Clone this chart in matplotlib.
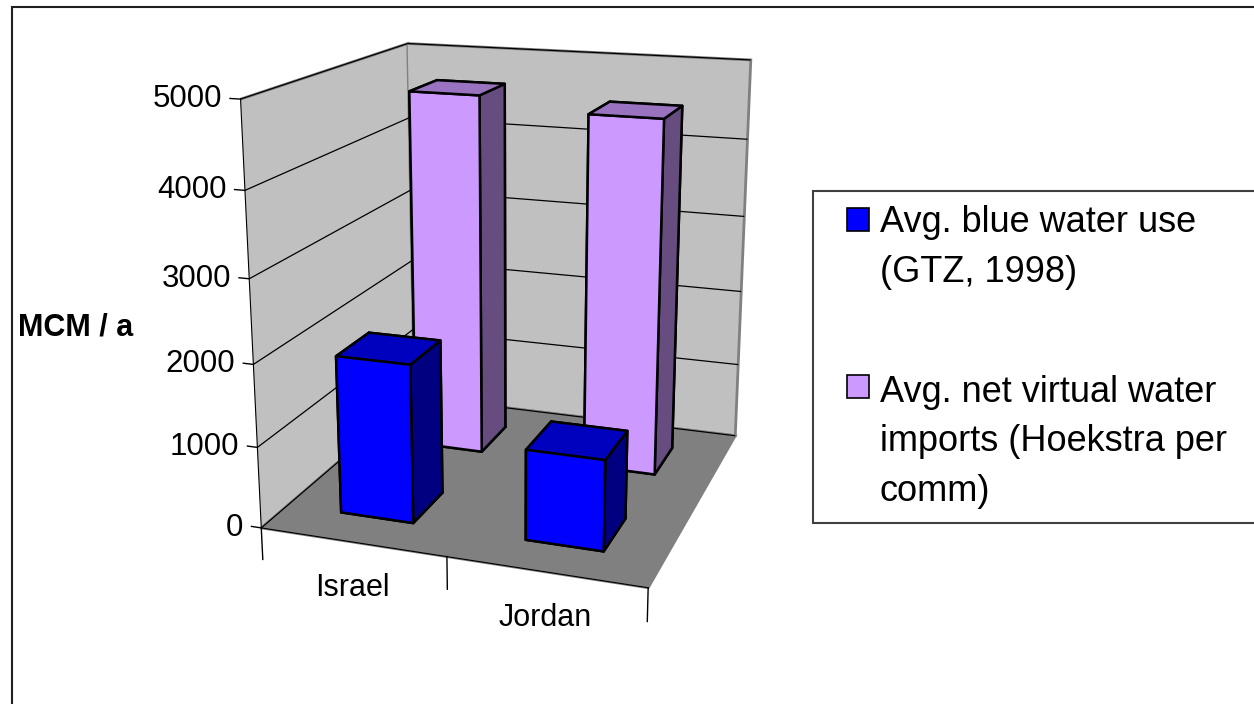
import matplotlib.pyplot as plt
from matplotlib.patches import Patch, Rectangle
from matplotlib.legend_handler import HandlerPatch
from matplotlib.transforms import ScaledTranslation
from mpl_toolkits.mplot3d import proj3d

plt.rcParams["font.family"] = ["Liberation Sans", "DejaVu Sans"]

# data (MCM / a)
countries = ["Israel", "Jordan"]
series = ["Avg. blue water use\n(GTZ, 1998)",
          "Avg. net virtual water\nimports (Hoekstra per\ncomm)"]
blue_use = [1950, 1100]
virtual_imports = [4650, 4500]
zticks = [0, 1000, 2000, 3000, 4000, 5000]

front_colors = ["#0000ff", "#cc99ff"]
top_colors = ["#0000bf", "#9973bf"]
side_colors = ["#000080", "#664c7f"]


class TopPatch(HandlerPatch):
    # legend square aligned with the first text line
    def __init__(self, lift, **kw):
        super().__init__(**kw)
        self.lift = lift

    def create_artists(self, legend, orig_handle, xdescent, ydescent,
                       width, height, fontsize, trans):
        w = 0.6 * fontsize
        p = Rectangle((-xdescent + width - w, -ydescent + self.lift * fontsize),
                      w, height)
        self.update_prop(p, orig_handle, legend)
        p.set_transform(trans)
        return [p]


def main():
    fig = plt.figure(figsize=(12.54, 7.04), dpi=100)
    ax = fig.add_axes([0.113, 0.091, 0.58, 0.98], projection="3d")
    ax.set_proj_type("persp", focal_length=0.43)
    ax.view_init(elev=16.3, azim=-71)
    ax.set_box_aspect((1.0, 1.005, 1.085), zoom=0.965)

    # bars: one row per series, one column per category
    values = [blue_use, virtual_imports]
    xs, ys, dzs, cols = [], [], [], []
    for s, vals in enumerate(values):
        for c, v in enumerate(vals):
            xs.append(c + 0.3)
            ys.append(s + 0.3)
            dzs.append(v)
            # faces: -z, +z, -y, +y, -x, +x
            cols += [front_colors[s], top_colors[s], front_colors[s],
                     front_colors[s], side_colors[s], side_colors[s]]
    ax.bar3d(xs, ys, [0] * len(xs), 0.4, 0.4, dzs, color=cols,
             shade=False, edgecolor="black", linewidth=1.8)

    ax.set_xlim(0, len(countries))
    ax.set_ylim(0, len(values))
    ax.set_zlim(zticks[0], zticks[-1])

    ax.set_xticks([])
    ax.set_yticks([])
    ax.set_zticks(zticks)
    ax.zaxis.set_major_formatter(plt.NullFormatter())
    ax.zaxis.set_tick_params(label1On=False, label2On=False)
    ax.zaxis.set_ticks_position("lower")

    # walls and floor
    for axis, col in [(ax.xaxis, "#c0c0c0"), (ax.yaxis, "#c0c0c0"),
                      (ax.zaxis, "#808080")]:
        axis.set_pane_color(col)
        axis.pane.set_edgecolor("#808080")
        axis.pane.set_linewidth(2)
        axis.label.set_visible(False)
        axis.offsetText.set_visible(False)
    ax.zaxis._axinfo["grid"].update(color="black", linewidth=0.9)
    ax.zaxis._axinfo["tick"].update(inward_factor=0, outward_factor=0)
    ax.yaxis.line.set_color((0, 0, 0, 0))
    ax.xaxis.line.set_color("black")
    ax.zaxis.line.set_color("black")

    M = ax.get_proj()

    # value ticks and labels on the front-left edge
    left = ScaledTranslation(-18 / 100, 0, fig.dpi_scale_trans)
    for z in zticks:
        ax.plot([0, -0.055], [0, 0], [z, z], color="black", linewidth=1)
        px, py, _ = proj3d.proj_transform(0, 0, z, M)
        ax.text2D(px, py, str(z), fontsize=22.5, ha="right", va="center",
                  transform=ax.transData + left)

    # category tick marks at the boundaries, names below the front edge
    down = ScaledTranslation(0, -31 / 100, fig.dpi_scale_trans)
    for b in range(len(countries) + 1):
        ax.plot([b, b], [0, 0], [0, -400], color="black", linewidth=1)
    for c, name in enumerate(countries):
        px, py, _ = proj3d.proj_transform(c + 0.5, 0, 0, M)
        ax.text2D(px, py, name, fontsize=22, ha="center", va="top",
                  transform=ax.transData + down)

    fig.text(18 / 1254, 1 - 327 / 704, "MCM / a", fontsize=22,
             fontweight="bold", ha="left", va="center")

    # legend box runs past the right edge of the picture
    fig.add_artist(Rectangle((813 / 1254, 1 - 523 / 704), 0.5, 332 / 704,
                             transform=fig.transFigure, facecolor="white",
                             edgecolor="#404040", linewidth=1.5))
    handles = [Patch(facecolor=c, edgecolor="black", linewidth=1.2)
               for c in front_colors]
    leg = fig.legend(handles, series, loc="upper left",
                     bbox_to_anchor=(813 / 1254, 1 - 191 / 704),
                     fontsize=26, frameon=False,
                     borderpad=0.4, borderaxespad=0, handlelength=1.15,
                     handleheight=0.6, handletextpad=0.3, labelspacing=2.35,
                     handler_map={handles[0]: TopPatch(0.8),
                                  handles[1]: TopPatch(1.55)})
    for t in leg.get_texts():
        t.set_linespacing(1.54)

    fig.add_artist(Rectangle((12 / 1254, -0.1), 1.2, 1.1 - 7 / 704,
                             transform=fig.transFigure, fill=False,
                             edgecolor="#202020", linewidth=1.5, zorder=10))

    fig.savefig("out.png", dpi=100)


if __name__ == "__main__":
    main()
